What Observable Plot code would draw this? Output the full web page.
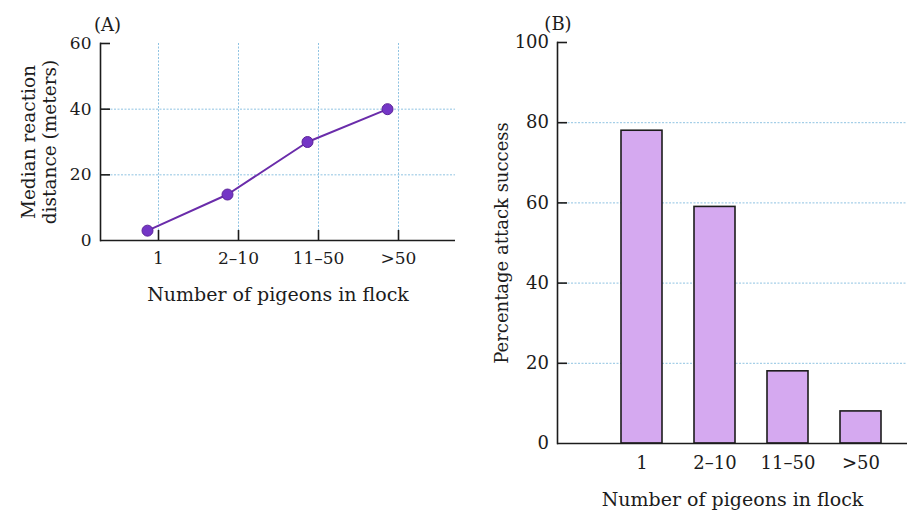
<!DOCTYPE html>
<html>
<head>
<meta charset="utf-8">
<script src="https://cdn.jsdelivr.net/npm/d3@7"></script>
<script src="https://cdn.jsdelivr.net/npm/@observablehq/plot@0.6"></script>
<style>
  html, body { margin: 0; padding: 0; background: #fff; }
  #wrap { position: relative; width: 907px; height: 511px; overflow: hidden; }
  #wrap > .panel { position: absolute; top: 0; }
  #panelA { left: 0; }
  #panelB { left: 480px; }
</style>
</head>
<body>
<div id="wrap">
  <div class="panel" id="panelA"></div>
  <div class="panel" id="panelB"></div>
</div>
<script>
// Flock-size categories shared by both panels
const flockSizes = ["1", "2–10", "11–50", ">50"];

// (A) median reaction distance, meters
const reactionDistance = [3, 14, 30, 40];
const reactionTicks = [0, 20, 40, 60];
const reactionGrid = [20, 40];

// (B) percentage attack success
const attackSuccess = [78, 59, 18, 8];
const successTicks = [0, 20, 40, 60, 80, 100];
const successGrid = [20, 40, 60, 80];

const xTitle = "Number of pigeons in flock";

const serif = "DejaVu Serif";
const gridColor = "#8fc3e2";
const ink = "#1c1c1c";
const tickLen = 10;

const dataA = flockSizes.map((k, i) => ({size: k, distance: reactionDistance[i]}));
const dataB = flockSizes.map((k, i) => ({size: k, success: attackSuccess[i]}));

const gridStyle = {stroke: gridColor, strokeOpacity: 1, strokeWidth: 1, strokeDasharray: "2,1.5"};

// Panel A: line chart
const A = {width: 470, height: 320, left: 100, right: 15, top: 43, bottom: 80};
const frameWA = A.width - A.left - A.right;
const frameHA = A.height - A.top - A.bottom;

const chartA = Plot.plot({
  width: A.width,
  height: A.height,
  marginLeft: A.left,
  marginRight: A.right,
  marginTop: A.top,
  marginBottom: A.bottom,
  style: {fontFamily: serif, fontSize: "17px", color: ink, background: "transparent"},
  x: {type: "point", domain: flockSizes, range: [157.5, 397.5], padding: 0},
  y: {domain: [0, 60]},
  marks: [
    Plot.gridX(gridStyle),
    Plot.gridY(reactionGrid, gridStyle),
    Plot.ruleY([0], {stroke: ink, strokeWidth: 1.6}),
    Plot.frame({anchor: "left", stroke: ink, strokeWidth: 1.6}),
    // short inward ticks along both axes
    Plot.tickY(reactionTicks.filter((d) => d > 0), {y: (d) => d, insetRight: frameWA - tickLen, stroke: ink, strokeWidth: 1.6}),
    Plot.tickX(flockSizes, {x: (d) => d, insetTop: frameHA - tickLen, stroke: ink, strokeWidth: 1.6}),
    Plot.axisY(reactionTicks, {tickSize: 0, tickPadding: 9, fontSize: 17, label: null}),
    Plot.axisX({tickSize: 0, tickPadding: 11, fontSize: 17, label: null}),
    Plot.line(dataA, {x: "size", y: "distance", stroke: "#6a2caa", strokeWidth: 2, dx: -11}),
    Plot.dot(dataA, {x: "size", y: "distance", r: 5.5, fill: "#7436c6", stroke: "#5b2499", strokeWidth: 1, dx: -11}),
    Plot.text([xTitle], {frameAnchor: "bottom", dy: 47, lineAnchor: "top", fontSize: 19}),
    Plot.text(["Median reaction\ndistance (meters)"], {
      frameAnchor: "left", dx: -81, rotate: -90, lineAnchor: "top", textAnchor: "middle",
      fontSize: 18.5, lineHeight: 1.15
    }),
    Plot.text(["(A)"], {frameAnchor: "top-left", dx: 7, dy: -18, lineAnchor: "middle", textAnchor: "middle", fontSize: 18})
  ]
});
document.getElementById("panelA").append(chartA);

// Panel B: bar chart
const B = {width: 427, height: 511, left: 77, right: 0, top: 42, bottom: 68};
const frameWB = B.width - B.left - B.right;

const chartB = Plot.plot({
  width: B.width,
  height: B.height,
  marginLeft: B.left,
  marginRight: B.right,
  marginTop: B.top,
  marginBottom: B.bottom,
  style: {fontFamily: serif, fontSize: "18px", color: ink, background: "transparent"},
  x: {type: "band", domain: flockSizes, range: [102.4, 438.9], paddingInner: 0.44, paddingOuter: 0.5},
  y: {domain: [0, 100]},
  marks: [
    Plot.gridY(successGrid, gridStyle),
    Plot.barY(dataB, {x: "size", y: "success", fill: "#d5a9f0", stroke: ink, strokeWidth: 1.6}),
    Plot.ruleY([0], {stroke: ink, strokeWidth: 1.6}),
    Plot.frame({anchor: "left", stroke: ink, strokeWidth: 1.6}),
    Plot.tickY(successTicks.filter((d) => d > 0), {y: (d) => d, insetRight: frameWB - tickLen, stroke: ink, strokeWidth: 1.6}),
    Plot.axisY(successTicks, {tickSize: 0, tickPadding: 8.5, fontSize: 18, label: null}),
    Plot.axisX({tickSize: 0, tickPadding: 12.5, fontSize: 18, label: null}),
    Plot.text([xTitle], {frameAnchor: "bottom", dy: 49, lineAnchor: "top", fontSize: 19}),
    Plot.text(["Percentage attack success"], {
      frameAnchor: "left", dx: -55, rotate: -90, lineAnchor: "middle", textAnchor: "middle", fontSize: 18
    }),
    Plot.text(["(B)"], {frameAnchor: "top-left", dx: 0.5, dy: -18, lineAnchor: "middle", textAnchor: "middle", fontSize: 18})
  ]
});
document.getElementById("panelB").append(chartB);
</script>
</body>
</html>
